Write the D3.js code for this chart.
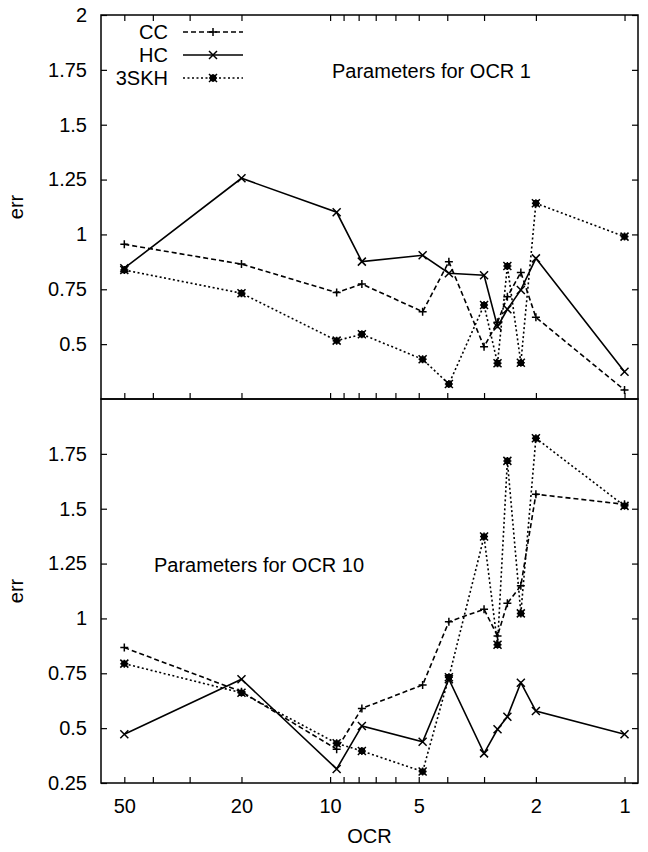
<!DOCTYPE html>
<html>
<head>
<meta charset="utf-8">
<script src="https://cdn.jsdelivr.net/npm/d3@7"></script>
<style>
  body { margin: 0; background: white; }
  text { font-family: "Liberation Sans", Arial, sans-serif; }
</style>
</head>
<body>
<div id="chart"></div>
<script>
// OCR values on the x axis (log scale, reversed)
const ocr = [50, 20, 9.5, 7.8, 4.85, 3.95, 3, 2.7, 2.5, 2.25, 2, 1];

// top panel: Parameters for OCR 1
const ccTop = [0.955, 0.865, 0.735, 0.774, 0.648, 0.876, 0.488, 0.60, 0.716, 0.827, 0.622, 0.291];
const hcTop = [0.846, 1.256, 1.101, 0.876, 0.905, 0.823, 0.814, 0.58, 0.659, 0.747, 0.891, 0.374];
const skhTop = [0.838, 0.732, 0.516, 0.545, 0.431, 0.318, 0.678, 0.413, 0.856, 0.415, 1.142, 0.99];

// bottom panel: Parameters for OCR 10
const ccBottom = [0.867, 0.666, 0.404, 0.59, 0.697, 0.985, 1.042, 0.92, 1.069, 1.149, 1.566, 1.52];
const hcBottom = [0.472, 0.723, 0.314, 0.51, 0.438, 0.723, 0.385, 0.495, 0.552, 0.707, 0.578, 0.472];
const skhBottom = [0.794, 0.661, 0.431, 0.396, 0.302, 0.732, 1.373, 0.88, 1.718, 1.023, 1.821, 1.513];

const xTickLabels = [50, 20, 10, 5, 2, 1];
const xMinorTicks = [50, 40, 30, 20, 10, 9, 8, 7, 6, 5, 4, 3, 2, 1];
const yTicksTop = [0.5, 0.75, 1, 1.25, 1.5, 1.75, 2];
const yTicksBottom = [0.25, 0.5, 0.75, 1, 1.25, 1.5, 1.75];

const seriesNames = ["CC", "HC", "3SKH"];

const width = 648, height = 852;
const left = 101, right = 638;
const fontSize = 20;

const svg = d3.select("#chart").append("svg")
    .attr("width", width)
    .attr("height", height);

const x = d3.scaleLog().domain([60, 0.9]).range([left, right]);

// marker shapes
function markerPath(kind, s) {
    const p = `M${-s},0L${s},0M0,${-s}L0,${s}`;
    const c = `M${-s},${-s}L${s},${s}M${-s},${s}L${s},${-s}`;
    if (kind === "CC") return p;
    if (kind === "HC") return c;
    return p + c + `M${-s*0.6},${-s*0.6}h${s*1.2}v${s*1.2}h${-s*1.2}Z`;
}

const styles = {
    "CC": { dash: "5,3" },
    "HC": { dash: null },
    "3SKH": { dash: "2,2.5" }
};

function drawPanel(top, bottom, series, ticksY, showXLabels, mirrorTop, title, titleX, titleY) {
    const y = d3.scaleLinear().domain([0.25, 2]).range([bottom, top]);
    const g = svg.append("g");

    // left axis
    const ga = g.append("g")
        .attr("transform", `translate(${left},0)`)
        .call(d3.axisLeft(y).tickValues(ticksY).tickSize(-6).tickPadding(14)
            .tickFormat(d3.format("")));
    ga.select(".domain").remove();
    ga.selectAll("text").style("font-size", fontSize + "px").attr("fill", "black");
    ga.selectAll("line").attr("stroke-width", 1.2);

    // right axis (mirror)
    const gr = g.append("g")
        .attr("transform", `translate(${right},0)`)
        .call(d3.axisRight(y).tickValues(ticksY).tickSize(-6).tickFormat(""));
    gr.select(".domain").remove();
    gr.selectAll("line").attr("stroke-width", 1.2);

    // bottom axis
    const gb = g.append("g")
        .attr("transform", `translate(0,${bottom})`)
        .call(d3.axisBottom(x).tickValues(xMinorTicks).tickSize(-6).tickPadding(16)
            .tickFormat(d => showXLabels && xTickLabels.includes(d) ? d : ""));
    gb.select(".domain").remove();
    gb.selectAll("text").style("font-size", fontSize + "px").attr("fill", "black");
    gb.selectAll("line").attr("stroke-width", 1.2);

    if (mirrorTop) {
        const gt = g.append("g")
            .attr("transform", `translate(0,${top})`)
            .call(d3.axisTop(x).tickValues(xMinorTicks).tickSize(-6).tickFormat(""));
        gt.select(".domain").remove();
        gt.selectAll("line").attr("stroke-width", 1.2);
    }

    // frame
    g.append("rect")
        .attr("x", left).attr("y", top)
        .attr("width", right - left).attr("height", bottom - top)
        .attr("fill", "none").attr("stroke", "black").attr("stroke-width", 1.5);

    // y label
    g.append("text")
        .attr("transform", `translate(16,${(top + bottom) / 2}) rotate(-90)`)
        .attr("text-anchor", "middle")
        .attr("dy", "0.35em")
        .style("font-size", fontSize + "px")
        .text("err");

    // title inside panel
    g.append("text")
        .attr("x", titleX).attr("y", titleY)
        .style("font-size", fontSize + "px")
        .text(title);

    const line = d3.line().x(d => x(d[0])).y(d => y(d[1]));

    series.forEach(s => {
        const pts = ocr.map((o, i) => [o, s.values[i]]);
        g.append("path")
            .datum(pts)
            .attr("d", line)
            .attr("fill", "none")
            .attr("stroke", "black")
            .attr("stroke-width", 1.6)
            .attr("stroke-dasharray", styles[s.name].dash);
        g.selectAll(null)
            .data(pts)
            .enter().append("path")
            .attr("transform", d => `translate(${x(d[0])},${y(d[1])})`)
            .attr("d", markerPath(s.name, 4))
            .attr("fill", "black")
            .attr("stroke", "black")
            .attr("stroke-width", 1.5);
    });
}

drawPanel(15, 399, [
    { name: "CC", values: ccTop },
    { name: "HC", values: hcTop },
    { name: "3SKH", values: skhTop }
], yTicksTop, false, true, "Parameters for OCR 1", 332, 78);

drawPanel(399, 783, [
    { name: "CC", values: ccBottom },
    { name: "HC", values: hcBottom },
    { name: "3SKH", values: skhBottom }
], yTicksBottom, true, false, "Parameters for OCR 10", 154, 572);

// x label
svg.append("text")
    .attr("x", (left + right) / 2)
    .attr("y", 843)
    .attr("text-anchor", "middle")
    .style("font-size", fontSize + "px")
    .text("OCR");

// legend
const legend = svg.append("g").attr("class", "legend");
seriesNames.forEach((name, i) => {
    const cy = 32 + i * 23;
    legend.append("text")
        .attr("x", 168).attr("y", cy)
        .attr("dy", "0.35em")
        .attr("text-anchor", "end")
        .style("font-size", fontSize + "px")
        .text(name);
    legend.append("line")
        .attr("x1", 183).attr("x2", 243)
        .attr("y1", cy).attr("y2", cy)
        .attr("stroke", "black")
        .attr("stroke-width", 1.6)
        .attr("stroke-dasharray", styles[name].dash);
    legend.append("path")
        .attr("transform", `translate(213,${cy})`)
        .attr("d", markerPath(name, 4))
        .attr("fill", "black")
        .attr("stroke", "black")
        .attr("stroke-width", 1.5);
});
</script>
</body>
</html>
